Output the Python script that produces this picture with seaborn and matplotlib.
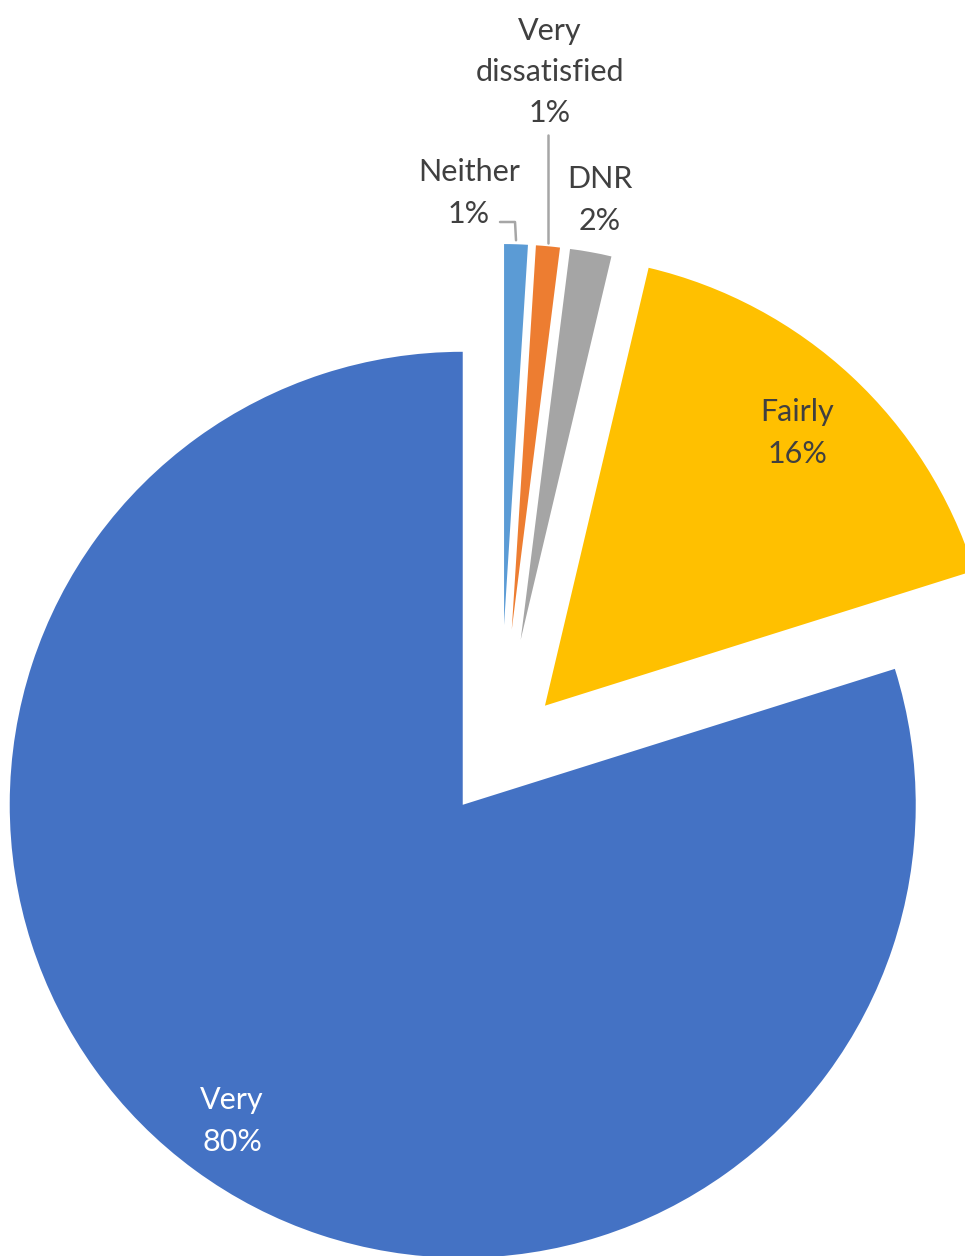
import numpy as np
import matplotlib.pyplot as plt
import seaborn as sns

W, H = 965, 1256  # output size in pixels

# data (clockwise from 12 o'clock)
categories = ["Neither", "Very dissatisfied", "DNR", "Fairly", "Very"]
shares = [1.0, 1.0, 1.7, 16.45, 79.85]
label_names = ["Neither", "Very\ndissatisfied", "DNR", "Fairly", "Very"]

COLORS = ["#5B9BD5", "#ED7D31", "#A5A5A5", "#FFC000", "#4472C4"]
TEXT = "#404040"
LEADER = "#A6A6A6"

CENTER = (500, H - 754)
explode_px = [129, 125, 116, 66, 63]
radius_px = [381, 385, 394, 450, 453]
# label centres in pixel coordinates (from top-left)
label_xy = [(469, 193), (550, 72), (600, 200), (797, 433), (232, 1121)]
label_colors = [TEXT, TEXT, TEXT, TEXT, "white"]

sns.set_theme(style="white")
plt.rcParams["font.family"] = ["Lato", "DejaVu Sans"]

fig = plt.figure(figsize=(W / 100, H / 100), dpi=100)
ax = fig.add_axes([0, 0, 1, 1])

wedges, _ = ax.pie(shares, colors=sns.color_palette(COLORS), startangle=90,
                   counterclock=False, radius=max(radius_px), center=CENTER,
                   explode=explode_px, wedgeprops=dict(linewidth=0))
for w, r in zip(wedges, radius_px):
    w.set_radius(r)

ax.set_xlim(0, W)
ax.set_ylim(0, H)
ax.set_aspect("equal")
ax.axis("off")

for name, val, (lx, ly), c in zip(label_names, shares, label_xy, label_colors):
    ax.text(lx, H - ly, f"{name}\n{val:.0f}%", ha="center", va="center",
            fontsize=22, color=c, linespacing=1.58)


def outer_mid(w):
    t = np.deg2rad((w.theta1 + w.theta2) / 2)
    cx, cy = w.center
    return cx + w.r * np.cos(t), cy + w.r * np.sin(t)


# leader lines for the two thin slices
ex, ey = outer_mid(wedges[0])
ax.plot([500, ex - 1, ex], [H - 222, H - 222, ey + 4], color=LEADER, lw=1.8)
ex, ey = outer_mid(wedges[1])
ax.plot([ex, ex], [H - 135, ey + 3], color=LEADER, lw=1.8)

plt.savefig("out.png", dpi=100)
